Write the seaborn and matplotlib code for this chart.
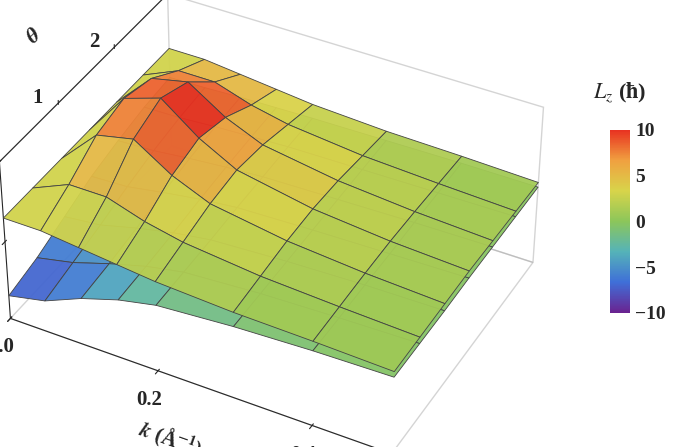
import numpy as np
import matplotlib
matplotlib.use("Agg")
import matplotlib.pyplot as plt
import seaborn as sns
from matplotlib.colors import LinearSegmentedColormap, Normalize

# grid
k_values = [0.0, 0.05, 0.1, 0.15, 0.2, 0.3, 0.4, 0.5]
theta_values = [0.0, 0.5, 1.0, 1.5, 2.0, 2.5, 3.0]

upper_surface = [
    [3.0, 3.0, 2.5, 2.0, 1.5, 1.0, 0.8, 0.5],
    [3.0, 5.0, 5.0, 3.5, 2.5, 1.5, 1.0, 0.6],
    [3.0, 7.5, 8.5, 5.5, 3.5, 2.0, 1.2, 0.7],
    [3.0, 8.5, 10.0, 6.5, 4.0, 2.2, 1.3, 0.8],
    [3.0, 7.5, 8.5, 5.5, 3.5, 2.0, 1.2, 0.7],
    [3.0, 5.0, 5.0, 3.5, 2.5, 1.5, 1.0, 0.6],
    [3.0, 3.0, 2.5, 2.0, 1.5, 1.0, 0.8, 0.5],
]
lower_surface = [
    [-7.0, -6.0, -4.0, -2.5, -1.5, -0.8, -0.4, -0.2],
    [-6.0, -5.0, -3.5, -2.2, -1.3, -0.7, -0.4, -0.2],
    [-4.5, -4.0, -2.8, -1.8, -1.1, -0.6, -0.3, -0.2],
    [-3.0, -2.8, -2.0, -1.3, -0.8, -0.5, -0.3, -0.1],
    [-2.0, -1.8, -1.3, -0.9, -0.6, -0.4, -0.2, -0.1],
    [-1.2, -1.1, -0.8, -0.6, -0.4, -0.3, -0.2, -0.1],
    [-0.8, -0.7, -0.5, -0.4, -0.3, -0.2, -0.1, -0.1],
]

sns.set_style("white")
plt.rcParams["font.family"] = ["Liberation Serif", "DejaVu Serif"]
plt.rcParams["mathtext.fontset"] = "stix"

cmap = LinearSegmentedColormap.from_list(
    "rainbow_mma",
    ["#6a2390", "#3f6fd8", "#55b3b8", "#8cc65a", "#d8d44a", "#f0a040", "#e83020"],
)
norm = Normalize(-10, 10)

K, T = np.meshgrid(k_values, theta_values)

fig = plt.figure(figsize=(6.85, 4.47), dpi=100)
ax = fig.add_axes([-0.06, -0.12, 0.9, 1.25], projection="3d")

for Z in (np.array(lower_surface), np.array(upper_surface)):
    ax.plot_surface(K, T, Z, facecolors=cmap(norm(Z)), edgecolor="#444444",
                    linewidth=0.6, alpha=0.95, shade=False)

ax.set_xlim(0, 0.5)
ax.set_ylim(0, 3)
ax.set_zlim(-10, 10)
ax.set_xticks([0.0, 0.2, 0.4])
ax.set_xticklabels(["0.0", "0.2", "0.4"])
ax.set_yticks([0, 1, 2, 3])
ax.set_zticks([-10, 0, 10])
ax.tick_params(labelsize=15)
for lab in ax.get_xticklabels() + ax.get_yticklabels() + ax.get_zticklabels():
    lab.set_fontweight("bold")
try:
    ax.yaxis.set_ticks_position("upper")
    ax.yaxis.set_label_position("upper")
    ax.zaxis.set_ticks_position("lower")
    ax.zaxis.set_label_position("lower")
except Exception:
    pass
ax.set_xlabel(r"$\boldsymbol{k}$ (Å$^{\mathbf{-1}}$)", fontsize=15, fontweight="bold", labelpad=12)
ax.set_ylabel(r"$\boldsymbol{\theta}$", fontsize=16, labelpad=8)
ax.view_init(elev=38, azim=-62)
ax.grid(False)
for pane in (ax.xaxis.pane, ax.yaxis.pane, ax.zaxis.pane):
    pane.fill = False
    pane.set_edgecolor("#aaaaaa")
ax.set_box_aspect((1.3, 1.0, 0.6))

cax = fig.add_axes([0.89, 0.3, 0.03, 0.41])
sm = plt.cm.ScalarMappable(norm=norm, cmap=cmap)
cb = fig.colorbar(sm, cax=cax, ticks=[-10, -5, 0, 5, 10])
cb.outline.set_visible(False)
cb.ax.tick_params(labelsize=14, length=0)
for lab in cb.ax.get_yticklabels():
    lab.set_fontweight("bold")
fig.text(0.905, 0.78, r"$\boldsymbol{L_z}$ ($\boldsymbol{\hbar}$)", fontsize=16,
         fontweight="bold", ha="center")

fig.savefig("out.png", dpi=100)
